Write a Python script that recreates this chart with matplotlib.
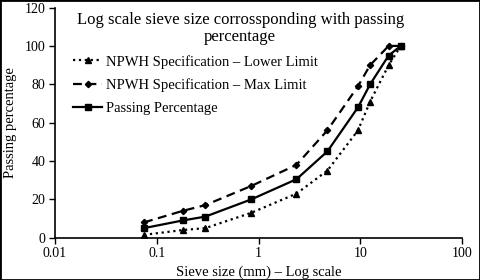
import matplotlib.pyplot as plt
from matplotlib.patches import Rectangle
from matplotlib.ticker import FixedLocator, NullLocator

plt.rcParams['font.family'] = ['Liberation Serif', 'DejaVu Serif']

# Sieve sizes (mm)
sieve = [0.075, 0.18, 0.3, 0.85, 2.36, 4.75, 9.5, 12.5, 19, 25]

# Passing percentages
lower_limit = [1.5, 4, 5, 13, 23, 35, 56, 71, 90, 100]
max_limit = [8, 14, 17, 27, 38, 56, 79, 90, 100, 100]
passing = [5, 9, 11, 20, 30.5, 45, 68, 80, 95, 100]

xticks = [0.01, 0.1, 1, 10, 100]
xtick_labels = ['0.01', '0.1', '1', '10', '100']
yticks = [0, 20, 40, 60, 80, 100, 120]

fig = plt.figure(figsize=(4.8, 2.8), dpi=100)
ax = fig.add_axes([0.1146, 0.151, 0.848, 0.822])

ax.plot(sieve, lower_limit, color='black', linestyle=':', linewidth=1.6,
        marker='^', markersize=3.8, label='NPWH Specification \u2013 Lower Limit')
ax.plot(sieve, max_limit, color='black', linestyle=(0, (4, 2.5)), linewidth=1.6,
        marker='D', markersize=3.2, label='NPWH Specification \u2013 Max Limit')
ax.plot(sieve, passing, color='black', linestyle='-', linewidth=1.6,
        marker='s', markersize=3.8, label='Passing Percentage')

ax.set_xscale('log')
ax.set_xlim(0.01, 100)
ax.set_ylim(0, 120)
ax.xaxis.set_major_locator(FixedLocator(xticks))
ax.xaxis.set_minor_locator(NullLocator())
ax.set_xticklabels(xtick_labels)
ax.set_yticks(yticks)

for s in ['top', 'right']:
    ax.spines[s].set_visible(False)
for s in ['left', 'bottom']:
    ax.spines[s].set_linewidth(1.2)
ax.tick_params(direction='out', length=4, width=1, labelsize=10, pad=3)

ax.set_xlabel('Sieve size (mm) \u2013 Log scale', fontsize=10.5, labelpad=4)
ax.set_ylabel('Passing percentage', fontsize=10.5, labelpad=5)

ax.text(0.455, 0.982, 'Log scale sieve size corrossponding with passing\npercentage',
        transform=ax.transAxes, ha='center', va='top', fontsize=12, linespacing=1.1)

ax.legend(loc='upper left', bbox_to_anchor=(0.03, 0.82), frameon=False,
          fontsize=10.5, handlelength=2.0, handletextpad=0.25, labelspacing=0.68,
          borderaxespad=0)

fig.patches.append(Rectangle((0, 0), 1, 1, transform=fig.transFigure,
                             fill=False, edgecolor='black', linewidth=2))

fig.savefig('out.png', dpi=100)
